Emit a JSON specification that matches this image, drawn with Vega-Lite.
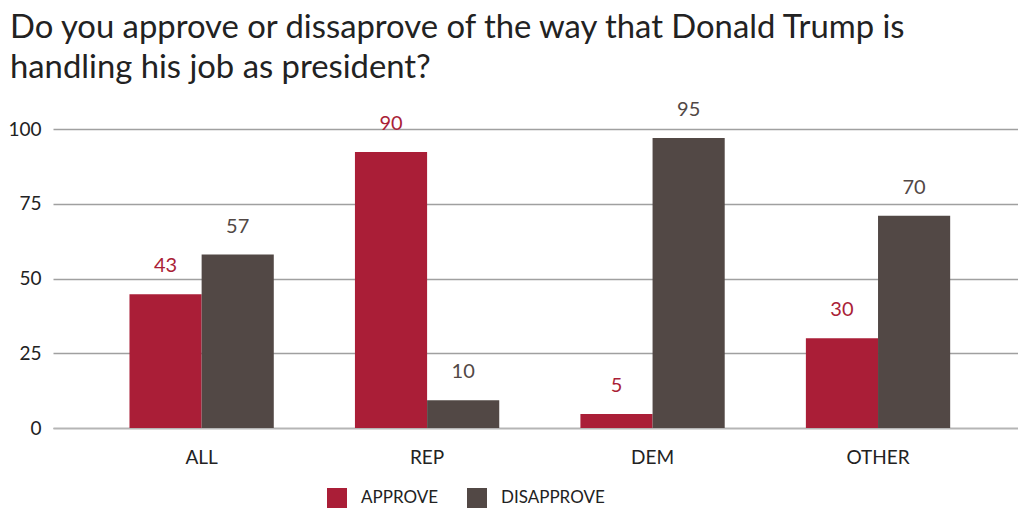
{
  "$schema": "https://vega.github.io/schema/vega-lite/v6.json",
  "autosize": {"type": "none"},
  "width": 965,
  "height": 299,
  "padding": {"left": 53, "top": 129, "right": 0, "bottom": 84},
  "background": "white",
  "title": {
    "text": ["Do you approve or dissaprove of the way that Donald Trump is", "handling his job as president?"],
    "anchor": "start",
    "frame": "group",
    "dx": -43,
    "offset": 15,
    "fontSize": 32.8,
    "font": "Lato",
    "fontWeight": "normal",
    "color": "#222222",
    "lineHeight": 40
  },
  "data": {
    "values": [
      {"group": "ALL", "response": "APPROVE", "value": 44.7, "label": "43"},
      {"group": "ALL", "response": "DISAPPROVE", "value": 58, "label": "57"},
      {"group": "REP", "response": "APPROVE", "value": 92.3, "label": "90"},
      {"group": "REP", "response": "DISAPPROVE", "value": 9.3, "label": "10"},
      {"group": "DEM", "response": "APPROVE", "value": 4.7, "label": "5"},
      {"group": "DEM", "response": "DISAPPROVE", "value": 97, "label": "95"},
      {"group": "OTHER", "response": "APPROVE", "value": 30, "label": "30"},
      {"group": "OTHER", "response": "DISAPPROVE", "value": 71, "label": "70"}
    ]
  },
  "encoding": {
    "x": {
      "field": "group", "type": "nominal", "sort": ["ALL", "REP", "DEM", "OTHER"],
      "scale": {"paddingInner": 0.36, "paddingOuter": 0.32, "align": 0.53},
      "axis": {"title": null, "labelAngle": 0, "ticks": false, "labelPadding": 20, "labelFontSize": 19, "labelFont": "Lato", "labelColor": "#222222", "domainColor": "#b5b5b5", "domainWidth": 1.5}
    },
    "xOffset": {"field": "response", "type": "nominal", "sort": ["APPROVE", "DISAPPROVE"], "scale": {"paddingInner": 0, "paddingOuter": 0}},
    "y": {
      "field": "value", "type": "quantitative",
      "scale": {"domain": [0, 100], "nice": false},
      "axis": {"title": null, "values": [0, 25, 50, 75, 100], "domain": false, "ticks": false, "labelPadding": 12, "labelFontSize": 19, "labelFont": "Lato", "labelColor": "#222222", "gridColor": "#a0a0a0", "gridWidth": 1.5}
    },
    "color": {
      "field": "response", "type": "nominal",
      "scale": {"domain": ["APPROVE", "DISAPPROVE"], "range": ["#aa1e37", "#524845"]}
    }
  },
  "layer": [
    {
      "mark": {"type": "bar"},
      "encoding": {
        "color": {
          "field": "response", "type": "nominal",
          "scale": {"domain": ["APPROVE", "DISAPPROVE"], "range": ["#aa1e37", "#524845"]},
          "legend": {
            "title": null, "orient": "none", "direction": "horizontal",
            "legendX": 274, "legendY": 359,
            "symbolType": "square", "symbolSize": 400, "symbolStrokeWidth": 0,
            "labelFontSize": 17, "labelFont": "Lato", "labelColor": "#222222",
            "labelOffset": 14, "columnPadding": 28
          }
        }
      }
    },
    {
      "mark": {"type": "text", "baseline": "bottom", "dy": -18, "fontSize": 20, "font": "Lato"},
      "encoding": {"text": {"field": "label"}}
    }
  ],
  "config": {"view": {"stroke": null}, "axis": {"gridCap": "butt"}}
}
